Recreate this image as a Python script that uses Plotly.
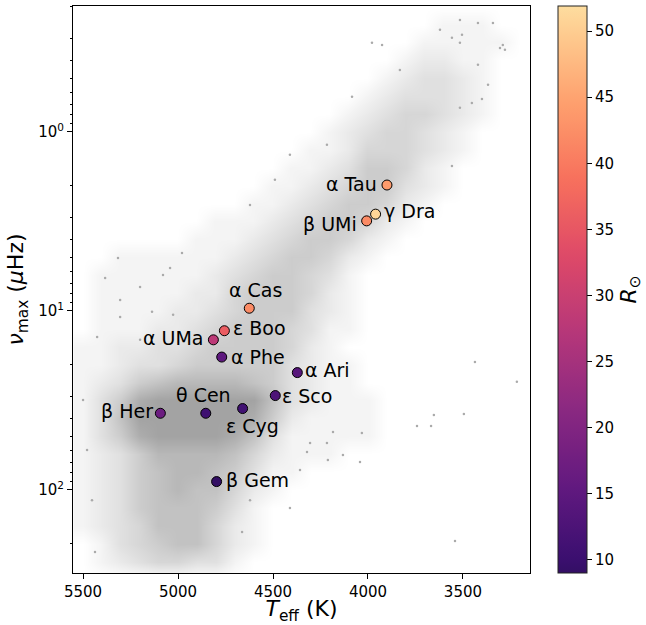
import math
import plotly.graph_objects as go

# ---------------- data ----------------
star_names = ['α Tau', 'γ Dra', 'β UMi', 'α Cas', 'ε Boo', 'α UMa', 'α Phe',
              'α Ari', 'ε Sco', 'ε Cyg', 'θ Cen', 'β Her', 'β Gem']
star_teff = [3900, 3960, 4007, 4625, 4756, 4814, 4770, 4372, 4488, 4660, 4854, 5093, 4797]
star_numax = [1.98, 2.88, 3.14, 9.66, 12.9, 14.5, 18.1, 22.1, 29.7, 35.1, 37.3, 37.3, 89.8]
star_radius = [44, 51, 42, 42, 36, 28, 15, 14, 12.6, 11, 10.6, 17, 9.0]

# background sample: density of stars (0-9) on a grid
grid_teff = [5500, 5400, 5300, 5200, 5100, 5000, 4900, 4800, 4700, 4600, 4500, 4400,
             4300, 4200, 4100, 4000, 3900, 3800, 3700, 3600, 3500, 3400, 3300, 3200]
grid_lognumax = [-0.7, -0.6, -0.5, -0.4, -0.3, -0.2, -0.1, 0.0, 0.1, 0.2, 0.3, 0.4, 0.5,
                 0.6, 0.7, 0.8, 0.9, 1.0, 1.1, 1.2, 1.3, 1.4, 1.5, 1.6, 1.7, 1.8, 1.9,
                 2.0, 2.1, 2.2, 2.3, 2.4, 2.5]
grid_density = [
    "000000000000000000000000",
    "000000000000000000011100",
    "000000000000000000111110",
    "000000000000000001221100",
    "000000000000000012332100",
    "000000000000000123332100",
    "000000000000001234432100",
    "000000000000012344321000",
    "000000000000112444321000",
    "000000000001123554210000",
    "000000000011234553210000",
    "000000000112345542100000",
    "000000011123455421000000",
    "000000111234554210000000",
    "001111112345542100000000",
    "011111123455431000000000",
    "011111224555421000000000",
    "011112234555321000000000",
    "011122345554311000000000",
    "112233455554210000000000",
    "112334555553211000000000",
    "123567777653211000000000",
    "135899999963211100000000",
    "136999999852111100000000",
    "135899998631111100000000",
    "123577776421110000000000",
    "123567765311000000000000",
    "123567664210000000000000",
    "123566653100000000000000",
    "123466642100000000000000",
    "013456642100000000000000",
    "012344331000000000000000",
    "000000000000000000000000",
]

# isolated background stars in the sparse outskirts
sparse_teff = [3516, 3421, 3342, 3621, 3558, 3505, 3516, 3290, 3305, 3279,
               3421, 3368, 3453, 3400, 3516, 3558, 3437, 3216, 3653, 3495,
               3742, 3668, 3542, 4184, 4032, 4321, 4211, 4132, 4042, 4305,
               4411, 4358, 4216, 5316, 4979, 5384, 5042, 5079, 5305, 5200,
               5137, 5026, 5305, 5426, 5200, 5500, 4411, 4621, 4490, 4216,
               4084, 3979, 3926, 3832, 5479, 5453, 5437, 4621, 4663]
sparse_numax = [0.237, 0.246, 0.246, 0.269, 0.298, 0.287, 0.318, 0.327, 0.340, 0.348,
                0.422, 0.546, 0.689, 0.654, 0.734, 1.55, 19.3, 24.9, 38.1, 37.6,
                43.9, 43.9, 193, 47.4, 48.0, 61.3, 68.0, 63.7, 69.8, 54.6,
                126, 77.3, 54.6, 5.06, 4.74, 6.54, 5.75, 6.29, 8.68, 7.34,
                10.1, 10.5, 10.8, 14.0, 14.5, 31.4, 1.34, 2.56, 1.85, 1.18,
                0.637, 0.318, 0.327, 0.451, 59.8, 114, 222, 114, 172]

x_ticks = [5500, 5000, 4500, 4000, 3500]
y_ticks = [1, 10, 100]
y_ticktext = ['10<sup>0</sup>', '10<sup>1</sup>', '10<sup>2</sup>']
cbar_ticks = [10, 15, 20, 25, 30, 35, 40, 45, 50]

# ---------------- styling ----------------
FONT = 'DejaVu Sans'
X_RANGE = [5553, 3147]
Y_RANGE_LOG = [math.log10(291), math.log10(0.198)]
R_MIN, R_MAX = 9.0, 51.9

magma_anchor = ['#000004', '#140e36', '#3b0f70', '#641a80', '#8c2981', '#b73779',
                '#de4968', '#f7705c', '#fe9f6d', '#fecf92', '#fcfdbf']


def hex2rgb(h):
    return tuple(int(h[i:i + 2], 16) for i in (1, 3, 5))


def magma(t):
    t = min(max(t, 0.0), 1.0) * 10
    i = min(int(t), 9)
    f = t - i
    a, b = hex2rgb(magma_anchor[i]), hex2rgb(magma_anchor[i + 1])
    c = [round(a[k] + (b[k] - a[k]) * f) for k in range(3)]
    return 'rgb(%d,%d,%d)' % tuple(c)


T0, T1 = 0.18, 0.93
cscale = [[i / 40, magma(T0 + (T1 - T0) * i / 40)] for i in range(41)]

# heatmap needs ascending x
hx = grid_teff[::-1]
hz = [[int(ch) for ch in row][::-1] for row in grid_density]

label_cfg = {
    'α Tau': dict(xanchor='right', yanchor='middle', xshift=-9, yshift=1),
    'γ Dra': dict(xanchor='left', yanchor='middle', xshift=7, yshift=3),
    'β UMi': dict(xanchor='right', yanchor='middle', xshift=-9, yshift=-3),
    'α Cas': dict(xanchor='center', yanchor='bottom', xshift=6, yshift=6),
    'ε Boo': dict(xanchor='left', yanchor='middle', xshift=8, yshift=3),
    'α UMa': dict(xanchor='right', yanchor='middle', xshift=-8, yshift=2),
    'α Phe': dict(xanchor='left', yanchor='middle', xshift=8, yshift=0),
    'α Ari': dict(xanchor='left', yanchor='middle', xshift=7, yshift=3),
    'ε Sco': dict(xanchor='left', yanchor='middle', xshift=6, yshift=0),
    'ε Cyg': dict(xanchor='center', yanchor='top', xshift=10, yshift=-5),
    'θ Cen': dict(xanchor='center', yanchor='bottom', xshift=-2, yshift=6),
    'β Her': dict(xanchor='right', yanchor='middle', xshift=-6, yshift=2),
    'β Gem': dict(xanchor='left', yanchor='middle', xshift=8, yshift=2),
}

fig = go.Figure()

# density field on the hidden base axis (log10 units)
fig.add_trace(go.Heatmap(
    x=hx, y=grid_lognumax, z=hz, zmin=0, zmax=9, zsmooth='best',
    colorscale=[[0, 'rgb(255,255,255)'], [0.12, 'rgb(243,243,243)'],
                [0.55, 'rgb(205,205,205)'], [1, 'rgb(163,163,163)']],
    showscale=False, hoverinfo='skip', yaxis='y'))

fig.add_trace(go.Scatter(
    x=sparse_teff, y=sparse_numax, mode='markers', yaxis='y2',
    marker=dict(size=2.5, color='#aaaaaa', line=dict(width=0)),
    hoverinfo='skip', showlegend=False))

fig.add_trace(go.Scatter(
    x=star_teff, y=star_numax, mode='markers', yaxis='y2',
    marker=dict(size=10, color=star_radius, colorscale=cscale, cmin=R_MIN, cmax=R_MAX,
                line=dict(color='black', width=1),
                colorbar=dict(thickness=29, thicknessmode='pixels', len=1, lenmode='fraction',
                              x=1.0613, xanchor='left', y=0.5, yanchor='middle',
                              xpad=0, ypad=0, outlinewidth=1, outlinecolor='#222',
                              ticks='outside', ticklen=5, tickwidth=1, tickcolor='black',
                              tickvals=cbar_ticks,
                              tickfont=dict(family=FONT, size=15, color='black'))),
    showlegend=False))

annotations = []
for name, t, nu in zip(star_names, star_teff, star_numax):
    cfg = label_cfg[name]
    annotations.append(dict(x=t, y=math.log10(nu), xref='x', yref='y2', text=name,
                            showarrow=False, borderpad=0,
                            font=dict(family=FONT, size=19, color='black'), **cfg))

annotations.append(dict(x=1.219, y=0.5, xref='paper', yref='paper',
                        xanchor='center', yanchor='middle',
                        text='<i>R</i><sub>⊙</sub>', textangle=-90, showarrow=False,
                        font=dict(family=FONT, size=22, color='black')))

axis_common = dict(showline=True, mirror=True, linecolor='black', linewidth=1,
                   showgrid=False, zeroline=False, ticks='outside', ticklen=5,
                   tickwidth=1, tickcolor='black', automargin=False,
                   tickfont=dict(family=FONT, size=15, color='black'))

minor_vals = [m * d for d in (0.1, 1, 10, 100) for m in range(2, 10)]

fig.update_layout(
    width=646, height=625,
    margin=dict(l=73, r=116, t=6, b=52, autoexpand=False),
    plot_bgcolor='white', paper_bgcolor='white',
    font=dict(family=FONT, color='black'),
    xaxis=dict(range=X_RANGE, tickvals=x_ticks, **axis_common,
               title=dict(text='<i>T</i><sub>eff</sub> (K)', standoff=6,
                          font=dict(family=FONT, size=22, color='black'))),
    yaxis=dict(range=Y_RANGE_LOG, visible=False, showgrid=False, zeroline=False,
               showticklabels=False),
    yaxis2=dict(type='log', range=Y_RANGE_LOG, overlaying='y', side='left',
                tickvals=y_ticks, ticktext=y_ticktext,
                minor=dict(tickmode='array', tickvals=minor_vals, ticks='outside',
                           ticklen=2.5, tickwidth=1, tickcolor='black'),
                **axis_common,
                title=dict(text='<i>ν</i><sub>max</sub> (<i>μ</i>Hz)', standoff=8,
                           font=dict(family=FONT, size=22, color='black'))),
    annotations=annotations,
    showlegend=False,
)

fig.write_html('out.html', config={'displayModeBar': False},
               post_script="document.body.style.margin='0px';")
